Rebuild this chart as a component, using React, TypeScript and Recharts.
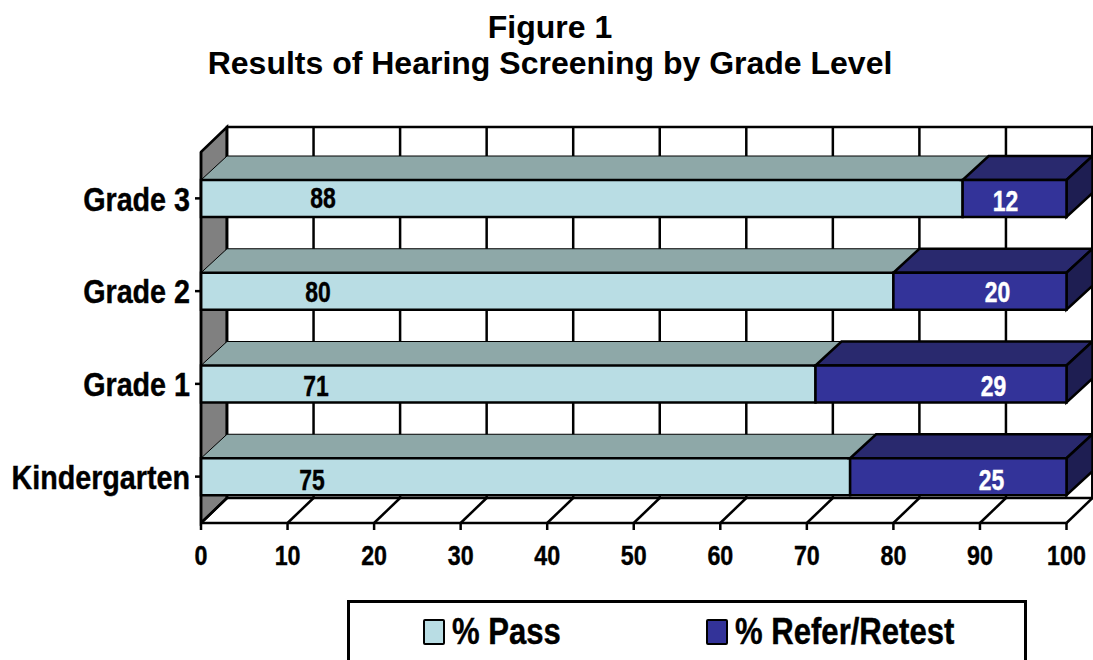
import { Bar, BarChart, LabelList, Legend, XAxis, YAxis, usePlotArea } from 'recharts'

const categories = ['Grade 3', 'Grade 2', 'Grade 1', 'Kindergarten']
const passValues = [88, 80, 71, 75]
const referValues = [12, 20, 29, 25]
const xTicks = [0, 10, 20, 30, 40, 50, 60, 70, 80, 90, 100]
const titleLines = ['Figure 1', 'Results of Hearing Screening by Grade Level']

// the labels in the original sit off-centre, nudges per row
const passLabelNudgeX = [122, 117, 115, 111]
const referLabelNudgeX = [61, 69, 73, 75]
const passLabelNudgeY = [0, 1, 2, 3]
const referLabelNudgeY = [3, 1, 2, 3]

const data = categories.map((grade, i) => ({ grade, pass: passValues[i], refer: referValues[i] }))

const DX = 26
const DY = 25
const FONT = '"Liberation Sans", Arial, sans-serif'
const PASS = { front: '#b9dde4', top: '#8ea8a8' }
const REFER = { front: '#333399', top: '#29296e', side: '#1e1e52' }

// no narrow Arial here, so squeeze the regular bold one
function Squeezed({ x, y, anchor, size, squeeze, fill = '#000', children }: any) {
  return (
    <text
      transform={`translate(${x},${y}) scale(${squeeze},1)`}
      textAnchor={anchor}
      dominantBaseline="central"
      fontFamily={FONT}
      fontWeight="bold"
      fontSize={size}
      fill={fill}
      stroke={fill}
      strokeWidth={0.4}
    >
      {children}
    </text>
  )
}

function BackWall() {
  const plot = usePlotArea()
  if (!plot) return null
  const { x, y, width, height } = plot
  const bottom = y + height
  const right = x + width
  return (
    <g stroke="#000" strokeWidth={2.5}>
      <polygon points={`${x},${y} ${x + DX},${y - DY} ${x + DX},${bottom - DY} ${x},${bottom}`} fill="#808080" />
      <rect x={x + DX} y={y - DY} width={width} height={height} fill="#fff" />
      {xTicks.map((t) => {
        const gx = x + (t / 100) * width
        return (
          <g key={t}>
            <line x1={gx + DX} y1={y - DY} x2={gx + DX} y2={bottom - DY} />
            <line x1={gx} y1={bottom} x2={gx + DX} y2={bottom - DY} />
          </g>
        )
      })}
      <line x1={right + DX} y1={y - DY} x2={right + DX} y2={bottom - DY} />
    </g>
  )
}

function PassBar({ x, y, width, height }: any) {
  return (
    <g stroke="#000">
      <polygon
        points={`${x},${y} ${x + DX},${y - DY + 1} ${x + width + DX},${y - DY + 1} ${x + width},${y}`}
        fill={PASS.top}
        strokeWidth={1}
      />
      <rect x={x} y={y} width={width} height={height} fill={PASS.front} strokeWidth={2.5} />
    </g>
  )
}

function ReferBar({ x, y, width, height }: any) {
  return (
    <g stroke="#000" strokeWidth={2.5}>
      <polygon
        points={`${x},${y} ${x + DX},${y - DY + 1} ${x + width + DX},${y - DY + 1} ${x + width},${y}`}
        fill={REFER.top}
      />
      <polygon
        points={`${x + width},${y} ${x + width + DX},${y - DY + 1} ${x + width + DX},${y + height - DY + 1} ${x + width},${y + height}`}
        fill={REFER.side}
      />
      <rect x={x} y={y} width={width} height={height} fill={REFER.front} />
    </g>
  )
}

function PassLabel({ x, y, height, value, index }: any) {
  return (
    <Squeezed x={x + passLabelNudgeX[index]} y={y + height / 2 + passLabelNudgeY[index]} anchor="middle" size={29} squeeze={0.79}>
      {value}
    </Squeezed>
  )
}

function ReferLabel({ x, y, width, height, value, index }: any) {
  return (
    <Squeezed x={x + width - referLabelNudgeX[index]} y={y + height / 2 + referLabelNudgeY[index]} anchor="middle" size={29} squeeze={0.79} fill="#fff">
      {value}
    </Squeezed>
  )
}

function XTick({ x, y, payload }: any) {
  return (
    <Squeezed x={x} y={y + 19} anchor="middle" size={28} squeeze={0.83}>
      {payload.value}
    </Squeezed>
  )
}

function YTick({ x, y, payload }: any) {
  return (
    <Squeezed x={x} y={y + 1} anchor="end" size={33} squeeze={0.87}>
      {payload.value}
    </Squeezed>
  )
}

function LegendBox({ payload }: any) {
  return (
    <div
      style={{
        boxSizing: 'border-box',
        width: 680,
        height: 60,
        border: '3px solid #000',
        borderBottom: 'none',
        background: '#fff',
        position: 'relative',
        fontFamily: FONT,
        fontWeight: 'bold',
        fontSize: 37,
        color: '#000',
      }}
    >
      {(payload ?? []).map((entry: any, i: number) => (
        <div key={entry.value} style={{ position: 'absolute', left: i === 0 ? 73 : 356, top: 8, display: 'flex', alignItems: 'center', whiteSpace: 'nowrap' }}>
          <span style={{ display: 'inline-block', boxSizing: 'border-box', width: 22, height: 26, background: entry.color, border: '2.5px solid #000', borderRadius: 2, marginRight: 7 }} />
          <span style={{ display: 'inline-block', transform: 'scaleX(0.84)', transformOrigin: 'left center', WebkitTextStroke: '0.4px #000' }}>{entry.value}</span>
        </div>
      ))}
    </div>
  )
}

export default function App() {
  return (
    <div style={{ position: 'absolute', left: 0, top: 0, width: 1093, height: 660, overflow: 'hidden', background: '#fff' }}>
      <div
        style={{
          position: 'absolute',
          left: 0,
          top: 9,
          width: 1100,
          textAlign: 'center',
          fontFamily: FONT,
          fontWeight: 'bold',
          fontSize: 32,
          lineHeight: '36px',
          color: '#000',
        }}
      >
        {titleLines.map((line) => (
          <div key={line}>{line}</div>
        ))}
      </div>
      <BarChart
        width={1093}
        height={660}
        data={data}
        layout="vertical"
        barSize={37}
        margin={{ top: 152, right: 26.5, left: 0, bottom: 37 }}
      >
        <BackWall />
        <XAxis
          type="number"
          domain={[0, 100]}
          ticks={xTicks}
          interval={0}
          height={40}
          tickSize={7}
          tickMargin={6}
          stroke="#000"
          strokeWidth={2.5}
          tick={<XTick />}
        />
        <YAxis
          type="category"
          dataKey="grade"
          width={201}
          interval={0}
          tickSize={6}
          tickMargin={5}
          stroke="#000"
          strokeWidth={2.5}
          tick={<YTick />}
        />
        <Bar dataKey="pass" name="% Pass" stackId="a" fill={PASS.front} shape={<PassBar />} isAnimationActive={false}>
          <LabelList dataKey="pass" content={<PassLabel />} />
        </Bar>
        <Bar dataKey="refer" name="% Refer/Retest" stackId="a" fill={REFER.front} shape={<ReferBar />} isAnimationActive={false}>
          <LabelList dataKey="refer" content={<ReferLabel />} />
        </Bar>
        <Legend content={<LegendBox />} wrapperStyle={{ left: 347, top: 600, width: 680, height: 60 }} />
      </BarChart>
    </div>
  )
}
